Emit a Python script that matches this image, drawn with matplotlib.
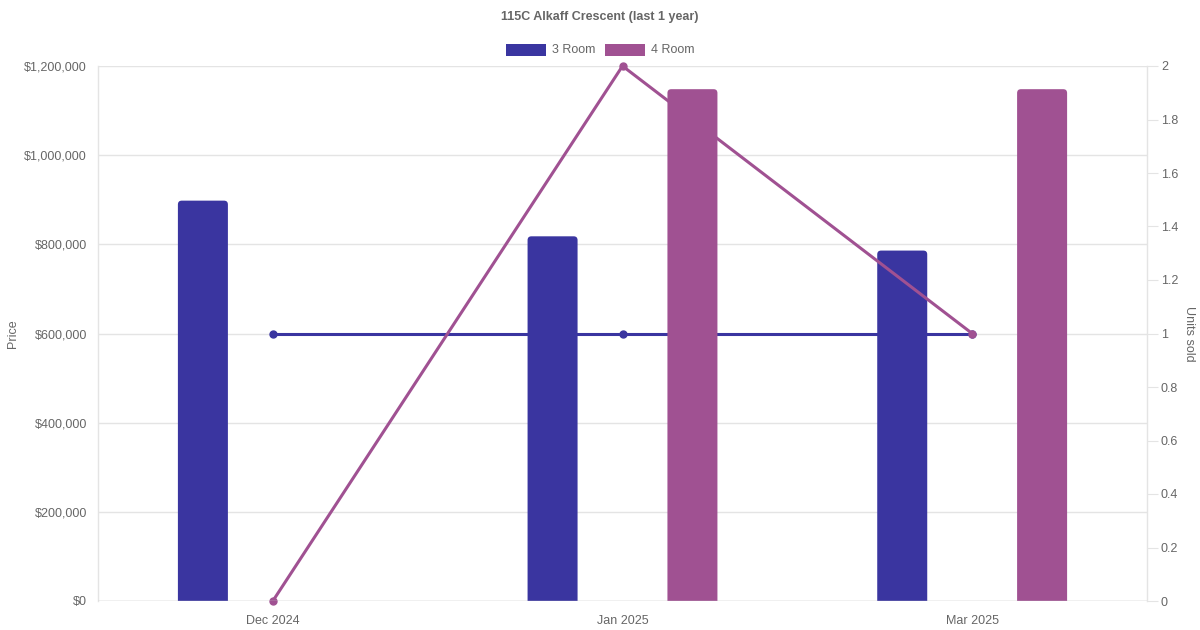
import numpy as np
import matplotlib.pyplot as plt
from matplotlib.patches import FancyBboxPatch
from matplotlib.ticker import FuncFormatter

plt.rcParams['font.family'] = ['Liberation Sans', 'DejaVu Sans']

months = ['Dec 2024', 'Jan 2025', 'Mar 2025']
price_3room = [898000, 818000, 786000]
price_4room = [0, 1148000, 1148000]
units_3room = [1, 1, 1]
units_4room = [0, 2, 1]

blue = '#3a35a0'
purple = '#a05192'
grey = '#666666'
gridc = '#e4e4e4'

fig = plt.figure(figsize=(12, 6.3), dpi=100)
ax = fig.add_axes([98/1200, 29/630, (1147-98)/1200, (601-66)/630])
ax2 = ax.twinx()
ax.set_zorder(ax2.get_zorder() + 1)
ax.patch.set_visible(False)

ax.set_xlim(-0.5, 2.5)
ax.set_ylim(0, 1200000)
ax2.set_ylim(0, 2)

x = np.arange(len(months))
w = 0.143
off = 0.2
rs = 0.011
# px -> data: x 349 px per unit, y 535 px per 1.2M
aspect = (1200000 / 535) * 349

def rounded_bars(xs, vals, color, z):
    below = rs * aspect * 1.5  # hide the bottom corners under the axis
    for xi, v in zip(xs, vals):
        if v <= 0:
            continue
        p = FancyBboxPatch((xi - w/2, -below), w, v + below,
                           boxstyle='round,pad=0,rounding_size=%g' % rs,
                           mutation_aspect=aspect,
                           facecolor=color, edgecolor='none', zorder=z)
        ax.add_patch(p)

rounded_bars(x - off, price_3room, blue, 2)
rounded_bars(x + off, price_4room, purple, 4)

# lines use the units axis scale but live in ax for draw order
ax.plot(x, units_3room, color=blue, lw=2.2, marker='o', ms=5, zorder=3,
        transform=ax2.transData)
ax.plot(x, units_4room, color=purple, lw=2.2, marker='o', ms=5, zorder=3,
        transform=ax2.transData, clip_on=False)

ax.set_yticks(np.arange(0, 1200001, 200000))
ax2.set_yticks(np.arange(0, 2.01, 0.2))
ax.yaxis.set_major_formatter(FuncFormatter(lambda v, p: '${:,.0f}'.format(v)))
ax2.yaxis.set_major_formatter(FuncFormatter(lambda v, p: '{:g}'.format(round(v, 1))))
ax.set_xticks(x)
ax.set_xticklabels(months)

ax.set_axisbelow(True)
ax.grid(axis='y', color=gridc, lw=1)
ax2.grid(False)
for a in (ax, ax2):
    for s in a.spines.values():
        s.set_visible(False)
    a.tick_params(colors=grey, labelsize=9, length=0)
ax.tick_params(axis='y', pad=8)
ax2.tick_params(axis='y', length=8, color=gridc, pad=2)
ax.tick_params(axis='x', pad=10)
ax.axhline(0, color='#cccccc', lw=1, zorder=5)
ax.plot([0, 0], [0, 1], transform=ax.transAxes, color=gridc, lw=1, clip_on=False, zorder=0)
ax.plot([1, 1], [0, 1], transform=ax.transAxes, color=gridc, lw=1, clip_on=False, zorder=0)

ax.set_ylabel('Price', color=grey, fontsize=9, labelpad=4)
ax2.set_ylabel('Units sold', color=grey, fontsize=9, rotation=270, labelpad=12)

fig.text(0.5, 1 - 17/630, '115C Alkaff Crescent (last 1 year)', ha='center', va='center',
         fontsize=9, fontweight='bold', color=grey)

# legend
for lx, col, lab in [(506, blue, '3 Room'), (605, purple, '4 Room')]:
    fig.patches.append(plt.Rectangle((lx/1200, 1 - 56/630), 40/1200, 12/630,
                                     transform=fig.transFigure, facecolor=col, edgecolor='none'))
    fig.text((lx + 46)/1200, 1 - 50/630, lab, ha='left', va='center', fontsize=9, color=grey)

fig.savefig('out.png', dpi=100)
